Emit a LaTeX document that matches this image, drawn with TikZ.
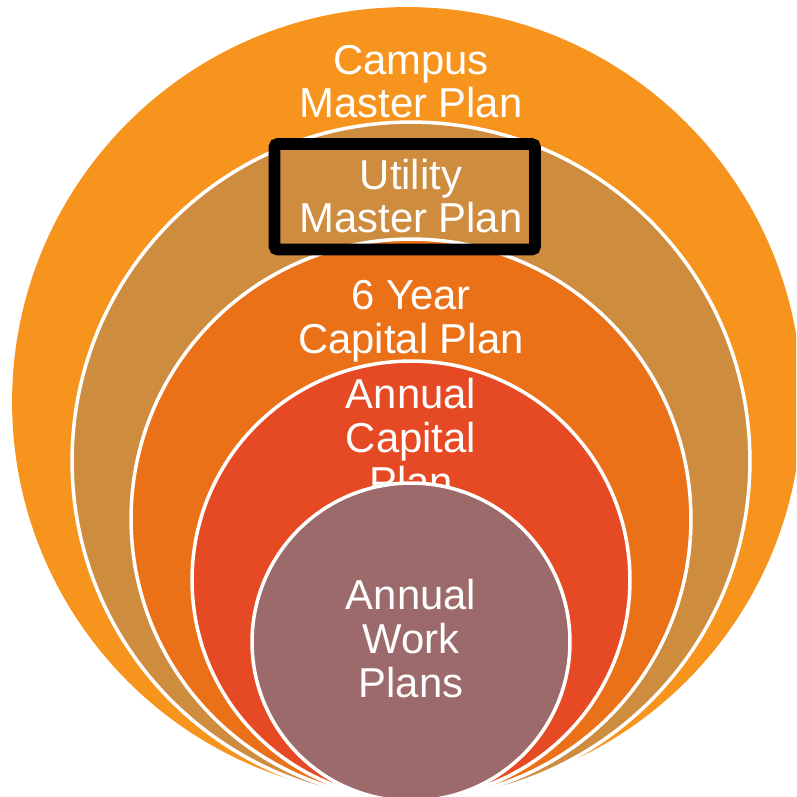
\documentclass[tikz,border=0pt]{standalone}
\usepackage{fontspec}
\setmainfont{Liberation Sans}
\usetikzlibrary{positioning}

\definecolor{campusorange}{HTML}{F7941E}
\definecolor{utilitytan}{HTML}{CE8C3F}
\definecolor{sixyearorange}{HTML}{EB7118}
\definecolor{annualred}{HTML}{E54A24}
\definecolor{workmauve}{HTML}{9C6A6B}

\begin{document}
\begin{tikzpicture}[
                x=0.02cm, y=-0.02cm,
                plan ring/.style={circle, draw=white, line width=2pt, inner sep=0pt},
                plan text/.style={text=white, align=center, anchor=base,
                                  font=\fontsize{23.8}{25}\selectfont},
                highlight/.style={draw=black, line width=6.8pt, rounded corners=2pt}
            ]

            \clip (0,0) rectangle (796,797);

            % Rings
            \node[plan ring, fill=campusorange, draw=none, minimum size=15.8cm] (campus) at (407,402) {};
            \node[plan ring, fill=utilitytan, minimum size=13.56cm] (utility) at (411,461) {};
            \node[plan ring, fill=sixyearorange, minimum size=11.2cm] (sixyear) at (411,519) {};
            \node[plan ring, fill=annualred, minimum size=8.76cm] (capital) at (411,580) {};

            % Labels (anchored at the last baseline)
            \node[plan text] (campus label) at (411,118) {Campus\\Master Plan};
            \node[plan text] (utility label) at (411,233) {Utility\\Master Plan};
            \node[plan text] (sixyear label) at (411,353) {6 Year\\Capital Plan};
            \node[plan text] (capital label) at (411,496) {Annual\\Capital\\Plan};

            % Inner ring
            \node[plan ring, fill=workmauve, minimum size=6.36cm] (work) at (411,642) {};
            \node[plan text] (work label) at (411,697) {Annual\\Work\\Plans};

            % Highlight
            \draw[highlight] (274.5,144) rectangle (535,249.5);

            \end{tikzpicture}
\end{document}
